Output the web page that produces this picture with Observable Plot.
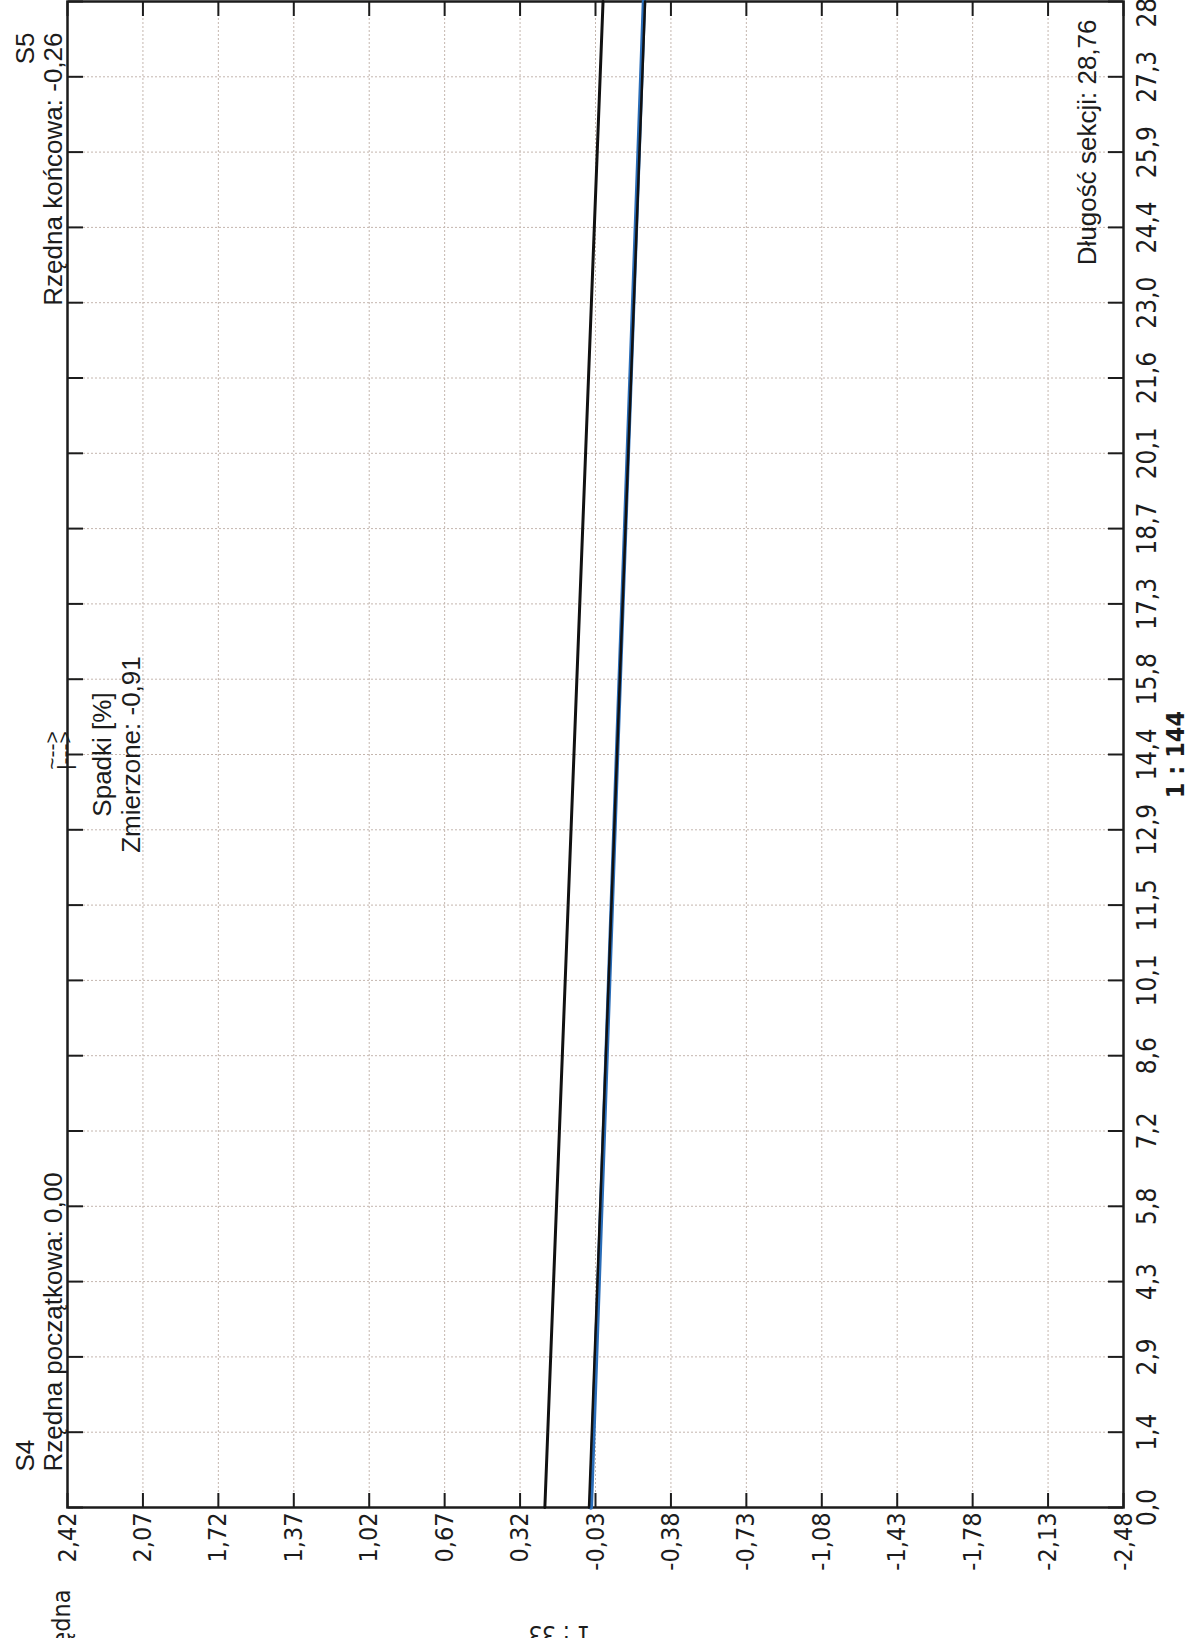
<!DOCTYPE html>
<html>
<head>
<meta charset="utf-8">
<script src="https://cdn.jsdelivr.net/npm/d3@7"></script>
<script src="https://cdn.jsdelivr.net/npm/@observablehq/plot@0.6"></script>
<style>
  html, body { margin: 0; padding: 0; background: #fff; }
  body { width: 1190px; height: 1638px; overflow: hidden; position: relative; }
  #rot { position: absolute; left: 0; top: 0; width: 1638px; height: 1190px;
         transform-origin: 0 0; transform: translate(0px, 1638px) rotate(-90deg); }
</style>
</head>
<body>
<div id="rot"></div>
<script>
// ---- data ----
const sectionLength = 28.76;
const startElev = 0.00;
const endElev = -0.26;
const slopeMeasured = -0.91;
const startName = "S4";
const endName = "S5";

const distTicks = [0, 1.438, 2.876, 4.314, 5.752, 7.19, 8.628, 10.066, 11.504, 12.942, 14.38, 15.818, 17.256, 18.694, 20.132, 21.57, 23.008, 24.446, 25.884, 27.322, 28.76];
const distTickLabels = ["0,0","1,4","2,9","4,3","5,8","7,2","8,6","10,1","11,5","12,9","14,4","15,8","17,3","18,7","20,1","21,6","23,0","24,4","25,9","27,3","28,8"];
const elevTicks = [2.42, 2.07, 1.72, 1.37, 1.02, 0.67, 0.32, -0.03, -0.38, -0.73, -1.08, -1.43, -1.78, -2.13, -2.48];
const elevTickLabels = ["2,42","2,07","1,72","1,37","1,02","0,67","0,32","-0,03","-0,38","-0,73","-1,08","-1,43","-1,78","-2,13","-2,48"];

// lines (distance, elevation)
const designDist = [0, 28.76];
const designElev = [startElev, endElev];
const measuredDist = [0, 14.38, 28.76];
const measuredElev = [-0.008, -0.13, -0.255];
const crownDist = [0, 28.76];
const crownElev = [0.205, -0.065];

const hScaleLabel = "1 : 144";
const vScaleLabel = "1 : 33";

// ---- build ----
const zip = (xs, ys) => xs.map((x, i) => ({x, y: ys[i]}));
const distMap = new Map(distTicks.map((d, i) => [d, distTickLabels[i]]));
const elevMap = new Map(elevTicks.map((d, i) => [d, elevTickLabels[i]]));
const fmt = v => v.toFixed(2).replace(".", ",");

const narrow = "'Liberation Sans Narrow', 'Arial Narrow', 'DejaVu Sans Condensed', sans-serif";
const sans = "'Liberation Sans', Arial, Helvetica, sans-serif";
const gridColor = "#c4b6ae";
const ink = "#1c1c1c";

const chart = Plot.plot({
  width: 1638,
  height: 1190,
  marginLeft: 130,
  marginRight: 2,
  marginTop: 67,
  marginBottom: 67,
  style: {background: "transparent", overflow: "visible", color: ink},
  x: {domain: [0, sectionLength], label: null},
  y: {domain: [-2.48, 2.42], label: null},
  marks: [
    Plot.gridX(distTicks, {stroke: gridColor, strokeOpacity: 1, strokeWidth: 1, strokeDasharray: "2,2"}),
    Plot.gridY(elevTicks, {stroke: gridColor, strokeOpacity: 1, strokeWidth: 1, strokeDasharray: "2,2"}),
    Plot.axisX(distTicks, {anchor: "bottom", label: null, tickSize: -15, tickPadding: 29, strokeWidth: 2,
      tickFormat: d => distMap.get(d), fontSize: 26, fontFamily: narrow, fill: ink}),
    Plot.axisX(distTicks, {anchor: "top", label: null, tickSize: -15, strokeWidth: 2, tickFormat: () => ""}),
    Plot.axisY(elevTicks, {anchor: "left", label: null, tickSize: -15, tickPadding: 20, strokeWidth: 2,
      tickFormat: d => elevMap.get(d), fontSize: 25, fontFamily: narrow, fill: ink}),
    Plot.axisY(elevTicks, {anchor: "right", label: null, tickSize: -15, strokeWidth: 2, tickFormat: () => ""}),
    Plot.frame({stroke: ink, strokeWidth: 2.5}),
    Plot.line(zip(crownDist, crownElev), {x: "x", y: "y", stroke: "#111", strokeWidth: 3}),
    Plot.line(zip(measuredDist, measuredElev), {x: "x", y: "y", stroke: "#2a6db8", strokeWidth: 4.5}),
    Plot.line(zip(designDist, designElev), {x: "x", y: "y", stroke: "#111", strokeWidth: 2.5}),
    // annotations
    Plot.text([startName], {frameAnchor: "top-left", dx: 36, dy: -34, textAnchor: "start", lineAnchor: "bottom", fontSize: 26, fontFamily: sans, fill: ink}),
    Plot.text(["Rzędna początkowa: " + fmt(startElev)], {frameAnchor: "top-left", dx: 36, dy: -6, textAnchor: "start", lineAnchor: "bottom", fontSize: 26, fontFamily: sans, fill: ink}),
    Plot.text([endName], {frameAnchor: "top-right", dx: -31, dy: -34, textAnchor: "end", lineAnchor: "bottom", fontSize: 26, fontFamily: sans, fill: ink}),
    Plot.text(["Rzędna końcowa: " + fmt(endElev)], {frameAnchor: "top-right", dx: -31, dy: -6, textAnchor: "end", lineAnchor: "bottom", fontSize: 26, fontFamily: sans, fill: ink}),
    Plot.text(["~-->"], {frameAnchor: "top", dx: 4, dy: -9, textAnchor: "middle", lineAnchor: "bottom", fontSize: 21, fontFamily: sans, fill: ink}),
    Plot.text(["|--->"], {frameAnchor: "top", dx: 4, dy: 4, textAnchor: "middle", lineAnchor: "bottom", fontSize: 21, fontFamily: sans, fill: ink}),
    Plot.text(["Spadki [%]"], {frameAnchor: "top", dy: 43, textAnchor: "middle", lineAnchor: "bottom", fontSize: 26, fontFamily: sans, fill: ink}),
    Plot.text(["Zmierzone: " + fmt(slopeMeasured)], {frameAnchor: "top", dy: 72, textAnchor: "middle", lineAnchor: "bottom", fontSize: 26, fontFamily: sans, fill: ink}),
    Plot.text(["Długość sekcji: " + fmt(sectionLength)], {frameAnchor: "bottom-right", dx: -18, dy: -28, textAnchor: "end", lineAnchor: "bottom", fontSize: 26, fontFamily: sans, fill: ink}),
    Plot.text(["Rzędna"], {frameAnchor: "top-left", dx: -82, dy: -6, textAnchor: "end", lineAnchor: "middle", fontSize: 25, fontFamily: narrow, fill: ink}),
    Plot.text([hScaleLabel], {frameAnchor: "bottom", dy: 60, textAnchor: "middle", lineAnchor: "bottom", fontSize: 25, fontWeight: "bold", fontFamily: narrow, fill: ink}),
    Plot.text([vScaleLabel], {frameAnchor: "top-left", dx: -118, dy: 492, rotate: -90, textAnchor: "middle", lineAnchor: "bottom", fontSize: 24, fontFamily: narrow, fill: ink})
  ]
});
document.getElementById("rot").appendChild(chart);
</script>
</body>
</html>
